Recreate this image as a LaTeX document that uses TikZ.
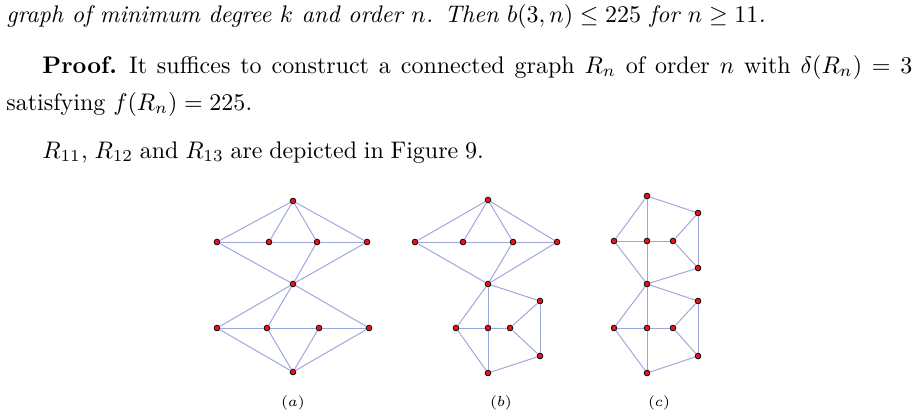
\documentclass[tikz,border=0pt]{standalone}
\usepackage{amsmath,amssymb}
\usepackage{tikz}
\usetikzlibrary{positioning}
\definecolor{edgeblue}{HTML}{9CA5DC}
\definecolor{vertred}{HTML}{E8141B}

\begin{document}
\begin{tikzpicture}[x=0.417pt,y=-0.417pt,
  vert/.style={circle,draw=black,fill=vertred,line width=0.3pt,inner sep=0pt,minimum size=2.4pt},
  edge/.style={draw=edgeblue,line width=0.4pt},
  txt/.style={anchor=base west,inner sep=0pt,font=\fontsize{10}{12}\selectfont},
  sublabel/.style={inner sep=0pt,font=\fontsize{6.5}{7}\selectfont}]
  \useasboundingbox (0,0) rectangle (919,416);
  % text above the figure
  \node[txt,font=\fontsize{10}{12}\selectfont\itshape] (thm) at (6,22)
    {graph of minimum degree $k$ and order $n$. Then $b(3,n)\leq 225$ for $n\geq 11$.};
  \node[txt] (proof) at (42,73)
    {\makebox[362.8pt][s]{\textbf{Proof.}\enspace It suffices to construct a connected graph $R_n$ of order $n$ with $\delta(R_n)=3$}};
  \node[txt] (satis) at (6,110) {satisfying $f(R_n)=225$.};
  \node[txt] (fig) at (42,158) {\makebox[184pt][s]{$R_{11}$, $R_{12}$ and $R_{13}$ are depicted in Figure 9.}};
  % (a)
  \foreach \n/\x/\y in {a1/293/201,a2/217/242,a3/269/242,a4/317/242,a5/367/242,a6/293/284,
                        a7/217/328,a8/267/328,a9/319/328,a10/369/328,a11/293/372}
    \node[vert] (\n) at (\x,\y) {};
  \foreach \u/\v in {a1/a2,a1/a3,a1/a4,a1/a5,a2/a3,a3/a4,a4/a5,a2/a6,a4/a6,a5/a6,
                     a6/a7,a6/a8,a6/a10,a7/a8,a8/a9,a9/a10,a7/a11,a8/a11,a9/a11,a10/a11}
    \draw[edge] (\u) -- (\v);
  % (b)
  \foreach \n/\x/\y in {b1/488/200,b2/415/242,b3/463/242,b4/513/242,b5/557/242,b6/488/284,b7/540/301,
                        b8/456/328,b9/488/328,b10/510/328,b11/540/356,b12/488/373}
    \node[vert] (\n) at (\x,\y) {};
  \foreach \u/\v in {b1/b2,b1/b3,b1/b4,b1/b5,b2/b3,b3/b4,b4/b5,b2/b6,b4/b6,b5/b6,
                     b6/b8,b6/b9,b6/b7,b8/b9,b9/b10,b10/b7,b10/b11,b7/b11,b8/b12,b9/b12,b11/b12}
    \draw[edge] (\u) -- (\v);
  % (c)
  \foreach \n/\x/\y in {c1/647/196,c2/698/213,c3/614/241,c4/647/241,c5/673/241,c6/698/268,c7/647/284,
                        c8/698/301,c9/614/328,c10/647/328,c11/673/328,c12/698/356,c13/647/373}
    \node[vert] (\n) at (\x,\y) {};
  \foreach \u/\v in {c1/c3,c1/c4,c1/c2,c3/c4,c4/c5,c5/c2,c5/c6,c2/c6,c3/c7,c4/c7,c6/c7,
                     c7/c9,c7/c10,c7/c8,c9/c10,c10/c11,c11/c8,c11/c12,c8/c12,c9/c13,c10/c13,c12/c13}
    \draw[edge] (\u) -- (\v);
  % captions
  \node[sublabel] (capa) at (293,403) {$(a)$};
  \node[sublabel] (capb) at (501,403) {$(b)$};
  \node[sublabel] (capc) at (659,403) {$(c)$};
\end{tikzpicture}
\end{document}
